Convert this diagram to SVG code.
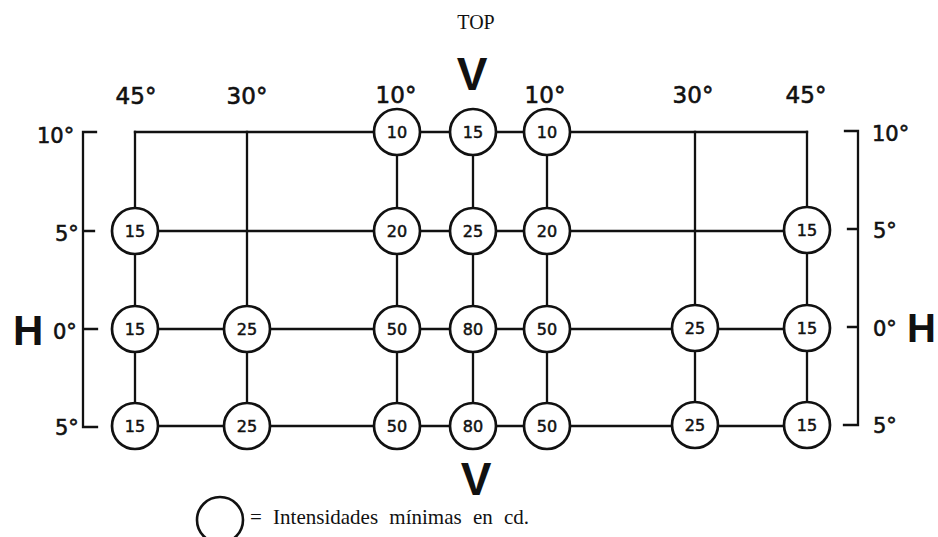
<svg xmlns="http://www.w3.org/2000/svg" width="938" height="537" viewBox="0 0 938 537">
<style>
.ln{stroke:#111;stroke-width:2.3;fill:none;stroke-linecap:square}
.nd circle{fill:#fff;stroke:#111;stroke-width:2.7}
.nd text{font-family:"DejaVu Sans",sans-serif;font-size:16px;fill:#111;stroke:#111;stroke-width:0.5;text-anchor:middle}
.ax{font-family:"DejaVu Sans",sans-serif;font-size:21px;fill:#111;stroke:#111;stroke-width:0.6}
.top{font-family:"DejaVu Sans",sans-serif;font-size:23px;fill:#111;stroke:#111;stroke-width:0.6;text-anchor:middle}
.big{font-family:"Liberation Sans",Arial,sans-serif;font-weight:bold;fill:#111}
.serif{font-family:"Liberation Serif","Times New Roman",serif;fill:#111}
</style>
<rect width="938" height="537" fill="#fff"/>
<text class="serif" x="476" y="29" font-size="20" text-anchor="middle">TOP</text>
<text class="big" x="472" y="90" font-size="46" text-anchor="middle">V</text>
<text class="big" x="476" y="495" font-size="46" text-anchor="middle">V</text>
<text class="big" x="13" y="345" font-size="42">H</text>
<text class="big" x="907" y="342" font-size="40">H</text>
<g id="col-labels">
<text class="top" x="136" y="104">45°</text>
<text class="top" x="247" y="104">30°</text>
<text class="top" x="396" y="103">10°</text>
<text class="top" x="545" y="103">10°</text>
<text class="top" x="693" y="103">30°</text>
<text class="top" x="806" y="103">45°</text>
</g>
<g id="row-labels">
<text class="ax" x="37" y="143">10°</text>
<text class="ax" x="55" y="241">5°</text>
<text class="ax" x="53" y="339">0°</text>
<text class="ax" x="55" y="435">5°</text>
<text class="ax" x="872" y="141">10°</text>
<text class="ax" x="873" y="238">5°</text>
<text class="ax" x="873" y="336">0°</text>
<text class="ax" x="873" y="433">5°</text>
</g>
<g id="connectors">
<path class="ln" d="M96 132H83V427H97M83 231H94M83 329H97"/>
<path class="ln" d="M845 131H858V425H844M858 229H848M858 327H848"/>
<path class="ln" d="M135 132H807M135 231H807M135 329H807M135 426H807"/>
<path class="ln" d="M135 132V426M247 132V426M397 132V426M473 132V426M547 132V426M695 132V426M807 132V426"/>
</g>
<g id="n-10-l" class="nd"><circle cx="397" cy="132" r="23"/><text x="397" y="138">10</text></g>
<g id="n-10-c" class="nd"><circle cx="473" cy="132" r="23"/><text x="473" y="138">15</text></g>
<g id="n-10-r" class="nd"><circle cx="547" cy="132" r="23"/><text x="547" y="138">10</text></g>
<g id="n-5u-45l" class="nd"><circle cx="135" cy="231" r="23"/><text x="135" y="237">15</text></g>
<g id="n-5u-10l" class="nd"><circle cx="397" cy="231" r="23"/><text x="397" y="237">20</text></g>
<g id="n-5u-c" class="nd"><circle cx="473" cy="231" r="23"/><text x="473" y="237">25</text></g>
<g id="n-5u-10r" class="nd"><circle cx="547" cy="231" r="23"/><text x="547" y="237">20</text></g>
<g id="n-5u-45r" class="nd"><circle cx="807" cy="230" r="23"/><text x="807" y="236">15</text></g>
<g id="n-0-45l" class="nd"><circle cx="135" cy="329" r="23"/><text x="135" y="335">15</text></g>
<g id="n-0-30l" class="nd"><circle cx="247" cy="329" r="23"/><text x="247" y="335">25</text></g>
<g id="n-0-10l" class="nd"><circle cx="397" cy="329" r="23"/><text x="397" y="335">50</text></g>
<g id="n-0-c" class="nd"><circle cx="473" cy="329" r="23"/><text x="473" y="335">80</text></g>
<g id="n-0-10r" class="nd"><circle cx="547" cy="329" r="23"/><text x="547" y="335">50</text></g>
<g id="n-0-30r" class="nd"><circle cx="695" cy="328" r="23"/><text x="695" y="334">25</text></g>
<g id="n-0-45r" class="nd"><circle cx="807" cy="328" r="23"/><text x="807" y="334">15</text></g>
<g id="n-5d-45l" class="nd"><circle cx="135" cy="426" r="23"/><text x="135" y="432">15</text></g>
<g id="n-5d-30l" class="nd"><circle cx="247" cy="426" r="23"/><text x="247" y="432">25</text></g>
<g id="n-5d-10l" class="nd"><circle cx="397" cy="426" r="23"/><text x="397" y="432">50</text></g>
<g id="n-5d-c" class="nd"><circle cx="473" cy="426" r="23"/><text x="473" y="432">80</text></g>
<g id="n-5d-10r" class="nd"><circle cx="547" cy="426" r="23"/><text x="547" y="432">50</text></g>
<g id="n-5d-30r" class="nd"><circle cx="695" cy="425" r="23"/><text x="695" y="431">25</text></g>
<g id="n-5d-45r" class="nd"><circle cx="807" cy="425" r="23"/><text x="807" y="431">15</text></g>
<g id="legend">
<circle cx="220" cy="520" r="23" fill="#fff" stroke="#111" stroke-width="2.6"/>
<text class="serif" x="250" y="524" font-size="21" word-spacing="6">= Intensidades mínimas en cd.</text>
</g>
</svg>
